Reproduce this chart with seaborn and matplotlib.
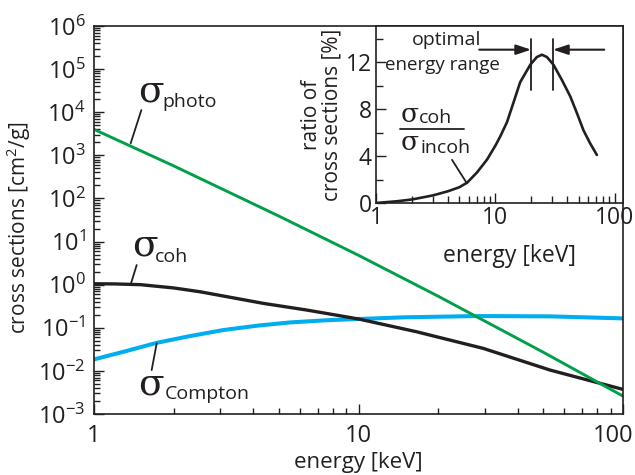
import numpy as np
import pandas as pd
import matplotlib
matplotlib.use("Agg")
import matplotlib.pyplot as plt
import matplotlib.transforms as mtransforms
import seaborn as sns
from matplotlib.ticker import LogLocator, FixedLocator, NullFormatter, FuncFormatter

# ---------------- data ----------------
energy_photo = [1, 2, 5, 10, 20, 50, 100]
sigma_photo = [4000, 570, 39, 4.8, 0.54, 0.027, 0.0026]

energy_coh = [1, 1.2, 1.5, 2, 2.52, 4.37, 6.37, 10, 16.6, 29.6, 53, 100]
sigma_coh = [1.05, 1.04, 1.0, 0.84, 0.684, 0.368, 0.258, 0.16, 0.0807, 0.0333, 0.01045, 0.00372]

energy_compton = [1, 1.3, 1.73, 2.3, 3.08, 4.2, 5.51, 7.5, 10, 15, 28, 53, 100]
sigma_compton = [0.0185, 0.028, 0.0449, 0.064, 0.0885, 0.113, 0.133, 0.149, 0.16, 0.175, 0.187, 0.184, 0.165]

energy_ratio = [1, 1.5, 2, 3, 4, 5, 5.8, 7, 8.5, 10, 11, 12.5, 14.2, 16.1, 19.6, 22.2,
                24.5, 27, 30.6, 36, 42.3, 48, 54.6, 62, 70.7]
ratio_pct = [0, 0.15, 0.3, 0.65, 1.0, 1.35, 1.74, 2.6, 3.7, 4.9, 5.7, 6.9, 8.6, 10.3, 11.8, 12.45,
             12.65, 12.45, 11.8, 10.5, 9.1, 7.7, 6.2, 5.1, 4.1]

main_xticks = [1, 10, 100]
main_yexp = [-3, -2, -1, 0, 1, 2, 3, 4, 5, 6]
inset_xticks = [1, 10, 100]
inset_yticks = [0, 4, 8, 12]

# ---------------- style ----------------
sns.set_style("ticks")
FONT = "Open Sans"
plt.rcParams["font.family"] = [FONT, "DejaVu Sans"]
plt.rcParams["mathtext.fontset"] = "custom"
plt.rcParams["mathtext.rm"] = FONT
plt.rcParams["mathtext.it"] = FONT
plt.rcParams["mathtext.bf"] = FONT
TXT = "#231f20"
GREEN = "#00a04a"
BLUE = "#00aeef"
BLACK = "#231f20"

fig = plt.figure(figsize=(6.35, 4.75), dpi=100)
ax = fig.add_axes([94 / 635, 1 - 414 / 475, (623 - 94) / 635, (414 - 26) / 475])

df_photo = pd.DataFrame({"energy": energy_photo, "sigma": sigma_photo})
df_coh = pd.DataFrame({"energy": energy_coh, "sigma": sigma_coh})
df_comp = pd.DataFrame({"energy": energy_compton, "sigma": sigma_compton})

sns.lineplot(data=df_comp, x="energy", y="sigma", ax=ax, color=BLUE, lw=2.9)
sns.lineplot(data=df_coh, x="energy", y="sigma", ax=ax, color=BLACK, lw=2.4)
sns.lineplot(data=df_photo, x="energy", y="sigma", ax=ax, color=GREEN, lw=2.1)

ax.set_xscale("log")
ax.set_yscale("log")
ax.set_xlim(1, 100)
ax.set_ylim(1e-3, 1e6)
ax.xaxis.set_major_locator(FixedLocator(main_xticks))
ax.xaxis.set_major_formatter(FuncFormatter(lambda v, p: f"{v:g}"))
ax.xaxis.set_minor_locator(LogLocator(base=10, subs=np.arange(2, 10), numticks=20))
ax.xaxis.set_minor_formatter(NullFormatter())
ax.yaxis.set_major_locator(FixedLocator([10.0 ** e for e in main_yexp]))
ax.yaxis.set_major_formatter(
    FuncFormatter(lambda v, p: r"$\mathregular{10^{%d}}$" % int(round(np.log10(v))))
)
ax.yaxis.set_minor_locator(LogLocator(base=10, subs=np.arange(2, 10), numticks=40))
ax.yaxis.set_minor_formatter(NullFormatter())
ax.tick_params(which="both", direction="in", top=False, right=False, colors=TXT,
               labelsize=17, width=1.0)
ax.tick_params(which="major", length=7)
ax.tick_params(which="minor", length=4)
ax.tick_params(axis="x", pad=7)
ax.tick_params(axis="y", pad=6)
for s in ax.spines.values():
    s.set_visible(True)
    s.set_color(TXT)
    s.set_linewidth(1.2)
ax.set_xlabel("energy [keV]", fontsize=16, color=TXT, labelpad=3)
ax.set_ylabel("cross sections [cm$^2$/g]", fontsize=15, color=TXT)
ax.yaxis.set_label_coords(-0.115, 0.48)

fig.canvas.draw()
xt = ax.get_xticklabels()
xt[-1].set_transform(xt[-1].get_transform() +
                     mtransforms.ScaledTranslation(-7 / 72, 0, fig.dpi_scale_trans))

# labels of the curves
SIG = 27
SUB = 14
ax.text(1.47, 1.73e4, "σ", fontsize=SIG, color=TXT, va="baseline", family="DejaVu Serif")
ax.text(1.82, 1.34e4, "photo", fontsize=SUB, color=TXT, va="baseline")
ax.plot([1.51, 1.376], [1.12e4, 1897], color=TXT, lw=1.3)

ax.text(1.39, 4.86, "σ", fontsize=SIG, color=TXT, va="baseline", family="DejaVu Serif")
ax.text(1.70, 3.40, "coh", fontsize=SUB, color=TXT, va="baseline")
ax.plot([1.45, 1.38], [2.85, 1.07], color=TXT, lw=1.3)

ax.text(1.47, 2.9e-3, "σ", fontsize=SIG, color=TXT, va="baseline", family="DejaVu Serif")
ax.text(1.855, 2.18e-3, "Compton", fontsize=SUB, color=TXT, va="baseline")
ax.plot([1.726, 1.652], [0.0435, 0.01045], color=TXT, lw=1.3)

# ---------------- inset ----------------
ins = fig.add_axes([376 / 635, 1 - 203 / 475, (623 - 376) / 635, (203 - 26) / 475])
ins.set_facecolor("white")
df_ratio = pd.DataFrame({"energy": energy_ratio, "ratio": ratio_pct})
sns.lineplot(data=df_ratio, x="energy", y="ratio", ax=ins, color=BLACK, lw=1.9)
ins.set_xscale("log")
ins.set_xlim(1, 117)
ins.set_ylim(0, 15.1)
ins.xaxis.set_major_locator(FixedLocator(inset_xticks))
ins.xaxis.set_major_formatter(FuncFormatter(lambda v, p: f"{v:g}"))
ins.xaxis.set_minor_locator(LogLocator(base=10, subs=np.arange(2, 10), numticks=20))
ins.xaxis.set_minor_formatter(NullFormatter())
ins.yaxis.set_major_locator(FixedLocator(inset_yticks))
ins.yaxis.set_minor_locator(FixedLocator([2, 6, 10, 14]))
ins.tick_params(which="both", direction="in", top=False, right=False, colors=TXT,
                labelsize=16.5, width=1.0)
ins.tick_params(which="major", length=7)
ins.tick_params(which="minor", length=5)
ins.tick_params(axis="x", pad=2)
ins.tick_params(axis="y", pad=3)
for s in ins.spines.values():
    s.set_visible(True)
    s.set_color(TXT)
    s.set_linewidth(1.2)
ins.set_xlabel("energy [keV]", fontsize=16.5, color=TXT)
ins.xaxis.set_label_coords(0.54, -0.23)
ins.set_ylabel("ratio of\ncross sections [%]", fontsize=15, color=TXT, linespacing=1.0)
ins.yaxis.set_label_coords(-0.135, 0.5)

# fraction label
ins.text(1.60, 6.95, "σ", fontsize=19, color=TXT, va="baseline", family="DejaVu Serif")
ins.text(2.30, 6.84, "coh", fontsize=SUB, color=TXT, va="baseline")
ins.plot([1.60, 5.48], [6.30, 6.30], color=TXT, lw=1.3)
ins.text(1.60, 4.55, "σ", fontsize=19, color=TXT, va="baseline", family="DejaVu Serif")
ins.text(2.38, 4.30, "incoh", fontsize=SUB, color=TXT, va="baseline")
ins.plot([4.33, 5.77], [3.68, 1.68], color=TXT, lw=1.3)

# optimal energy range annotation
ins.text(3.91, 13.5, "optimal", fontsize=14, color=TXT, ha="center", va="baseline")
ins.text(3.62, 11.37, "energy range", fontsize=13.5, color=TXT, ha="center", va="baseline")
ins.plot([19.9, 19.9], [9.66, 14.0], color=TXT, lw=1.3)
ins.plot([30.3, 30.3], [9.66, 14.0], color=TXT, lw=1.3)
arrow = dict(arrowstyle="-|>,head_length=0.9,head_width=0.3", color=TXT, lw=1.5,
             shrinkA=0, shrinkB=0)
ins.annotate("", xy=(19.9, 13.08), xytext=(7.32, 13.08), arrowprops=arrow)
ins.annotate("", xy=(30.3, 13.08), xytext=(81.5, 13.08), arrowprops=arrow)

fig.savefig("out.png", dpi=100)
